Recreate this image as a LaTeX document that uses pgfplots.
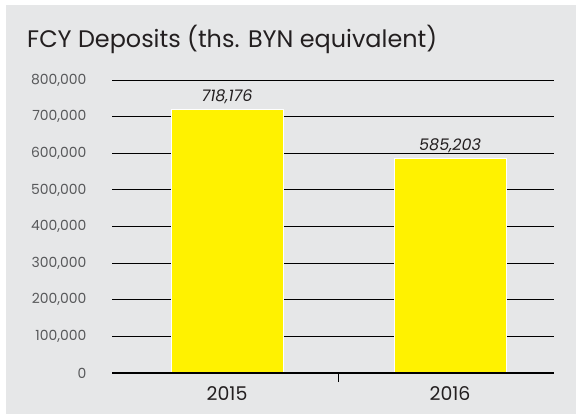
\documentclass[border=0pt]{standalone}
\usepackage{fontspec}
\setmainfont{Poppins}
\usepackage{pgfplots}
\pgfplotsset{compat=1.18}
\definecolor{bg}{HTML}{E6E7E8}
\definecolor{baryellow}{HTML}{FFF200}
\definecolor{ticklab}{HTML}{58595B}
\definecolor{txt}{HTML}{231F20}
\begin{document}
\begin{tikzpicture}[x=1bp,y=1bp]
\useasboundingbox (0,0) rectangle (576,415);
\fill[white] (0,0) rectangle (576,415);
\fill[bg] (6,1) rectangle (576,410);
\node[anchor=base west, inner sep=0, font=\fontsize{24}{28}\selectfont, text=txt] at (27,368) {FCY Deposits (ths. BYN equivalent)};
\begin{axis}[
  at={(112bp,42bp)}, anchor=south west,
  scale only axis, width=442bp, height=293bp,
  xmin=-0.516, xmax=1.466, ymin=0, ymax=800000,
  axis line style={draw=none},
  tick pos=left,
  ytick={0,100000,...,800000},
  ymajorgrids, grid style={black, line width=0.8bp},
  major tick length=0pt,
  xtick={0,1}, xticklabels={2015,2016},
  extra x ticks={0.5}, extra x tick labels={},
  extra x tick style={major tick length=9bp, tick align=outside, tick style={black, line width=1.6bp}},
  /pgf/number format/fixed,
  /pgf/number format/precision=0,
  /pgf/number format/assume math mode=true,
  /pgf/number format/1000 sep={,},
  scaled y ticks=false,
  yticklabel style={font=\fontsize{14}{16}\selectfont, text=ticklab, xshift=-22bp},
  xticklabel style={font=\fontsize{19}{21}\selectfont, text=txt, yshift=-10bp},
  nodes near coords,
  nodes near coords style={font=\fontsize{16}{18}\selectfont\itshape, text=txt, yshift=2bp},
  clip=false,
]
\addplot[ybar, bar width=112bp, fill=baryellow, draw=white, line width=1bp] coordinates {(0,718176) (1,585203)};
\draw[black, line width=2.2bp] (axis cs:-0.516,0) -- (axis cs:1.466,0);
\end{axis}
\end{tikzpicture}
\end{document}
